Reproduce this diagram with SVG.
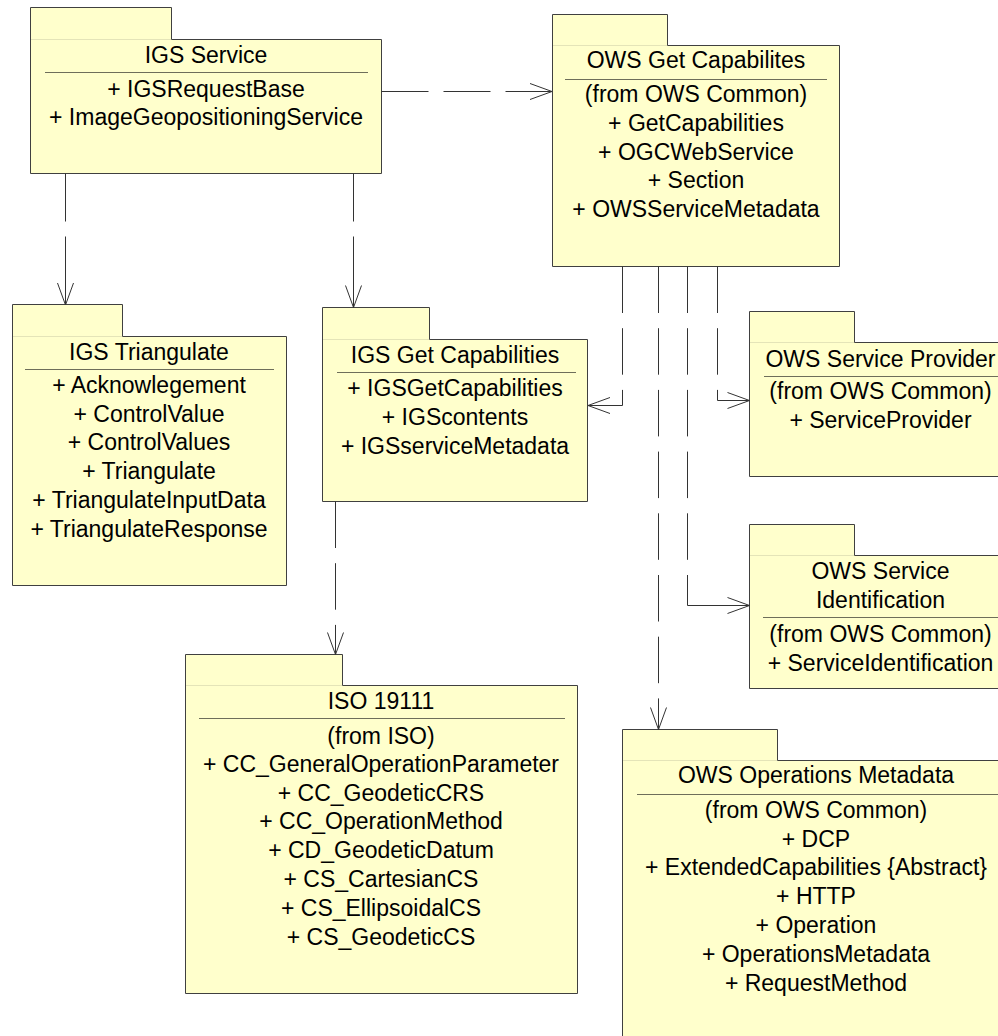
<svg xmlns="http://www.w3.org/2000/svg" width="998" height="1036" viewBox="0 0 998 1036">
  <style>
    .pkg { fill: #ffffcc; stroke: #404040; stroke-width: 1; }
    .tabline { stroke: #e4e4b8; stroke-width: 1; }
    .sep { stroke: #6e6e5a; stroke-width: 1; }
    text { font-family: "Liberation Sans", Arial, sans-serif; font-size: 23px; fill: #000; text-anchor: middle; }
    .dep { fill: none; stroke: #333; stroke-width: 1; stroke-dasharray: 46.5 15.2; }
    .solid { fill: none; stroke: #333; stroke-width: 1; }
  </style>
  <defs>
    <marker id="open-arrow" viewBox="-24 -10 26 20" refX="0" refY="0" markerWidth="26" markerHeight="20" markerUnits="userSpaceOnUse" orient="auto">
      <path d="M -22 -8 L 0 0 L -22 8" fill="none" stroke="#333" stroke-width="1"/>
    </marker>
  </defs>

  <rect width="998" height="1036" fill="#ffffff"/>

  <!-- packages -->
  <g id="igs-service">
    <path class="pkg" d="M30.5 7.5 H171.5 V39.5 H381.5 V173.5 H30.5 Z"/>
    <line class="tabline" x1="31" y1="39.5" x2="171" y2="39.5"/>
    <text x="206" y="63">IGS Service</text>
    <line class="sep" x1="45" y1="72.5" x2="368" y2="72.5"/>
    <text x="206" y="97">+ IGSRequestBase</text>
    <text x="206" y="125">+ ImageGeopositioningService</text>
  </g>

  <g id="ows-get-capabilities">
    <path class="pkg" d="M552.5 14.5 H667.5 V45.5 H839.5 V266.5 H552.5 Z"/>
    <line class="tabline" x1="553" y1="45.5" x2="667" y2="45.5"/>
    <text x="696" y="68">OWS Get Capabilites</text>
    <line class="sep" x1="565" y1="79.5" x2="827" y2="79.5"/>
    <text x="696" y="102">(from OWS Common)</text>
    <text x="696" y="131">+ GetCapabilities</text>
    <text x="696" y="160">+ OGCWebService</text>
    <text x="696" y="188">+ Section</text>
    <text x="696" y="217">+ OWSServiceMetadata</text>
  </g>

  <g id="igs-triangulate">
    <path class="pkg" d="M12.5 304.5 H122.5 V336.5 H286.5 V585.5 H12.5 Z"/>
    <line class="tabline" x1="13" y1="336.5" x2="122" y2="336.5"/>
    <text x="149" y="360">IGS Triangulate</text>
    <line class="sep" x1="25" y1="369.5" x2="274" y2="369.5"/>
    <text x="149" y="393">+ Acknowlegement</text>
    <text x="149" y="422">+ ControlValue</text>
    <text x="149" y="450">+ ControlValues</text>
    <text x="149" y="479">+ Triangulate</text>
    <text x="149" y="508">+ TriangulateInputData</text>
    <text x="149" y="537">+ TriangulateResponse</text>
  </g>

  <g id="igs-get-capabilities">
    <path class="pkg" d="M322.5 307.5 H429.5 V339.5 H587.5 V501.5 H322.5 Z"/>
    <line class="tabline" x1="323" y1="339.5" x2="429" y2="339.5"/>
    <text x="455" y="363">IGS Get Capabilities</text>
    <line class="sep" x1="337" y1="372.5" x2="576" y2="372.5"/>
    <text x="455" y="396">+ IGSGetCapabilities</text>
    <text x="455" y="425">+ IGScontents</text>
    <text x="455" y="454">+ IGSserviceMetadata</text>
  </g>

  <g id="iso-19111">
    <path class="pkg" d="M185.5 654.5 H342.5 V685.5 H577.5 V993.5 H185.5 Z"/>
    <line class="tabline" x1="186" y1="685.5" x2="342" y2="685.5"/>
    <text x="381" y="709">ISO 19111</text>
    <line class="sep" x1="199" y1="718.5" x2="565" y2="718.5"/>
    <text x="381" y="744">(from ISO)</text>
    <text x="381" y="772">+ CC_GeneralOperationParameter</text>
    <text x="381" y="801">+ CC_GeodeticCRS</text>
    <text x="381" y="829">+ CC_OperationMethod</text>
    <text x="381" y="858">+ CD_GeodeticDatum</text>
    <text x="381" y="887">+ CS_CartesianCS</text>
    <text x="381" y="916">+ CS_EllipsoidalCS</text>
    <text x="381" y="945">+ CS_GeodeticCS</text>
  </g>

  <g id="ows-service-provider">
    <path class="pkg" d="M749.5 311.5 H854.5 V342.5 H1012 V476.5 H749.5 Z"/>
    <line class="tabline" x1="750" y1="342.5" x2="854" y2="342.5"/>
    <text x="880.5" y="367">OWS Service Provider</text>
    <line class="sep" x1="764" y1="376.5" x2="998" y2="376.5"/>
    <text x="880.5" y="399">(from OWS Common)</text>
    <text x="880.5" y="428">+ ServiceProvider</text>
  </g>

  <g id="ows-service-identification">
    <path class="pkg" d="M749.5 524.5 H854.5 V555.5 H1012 V688.5 H749.5 Z"/>
    <line class="tabline" x1="750" y1="555.5" x2="854" y2="555.5"/>
    <text x="880.5" y="579">OWS Service</text>
    <text x="880.5" y="608">Identification</text>
    <line class="sep" x1="763" y1="617.5" x2="998" y2="617.5"/>
    <text x="880.5" y="642">(from OWS Common)</text>
    <text x="880.5" y="671">+ ServiceIdentification</text>
  </g>

  <g id="ows-operations-metadata">
    <path class="pkg" d="M622.5 729.5 H777.5 V760.5 H1012 V1050 H622.5 Z"/>
    <line class="tabline" x1="623" y1="760.5" x2="777" y2="760.5"/>
    <text x="816" y="783">OWS Operations Metadata</text>
    <line class="sep" x1="637" y1="794.5" x2="998" y2="794.5"/>
    <text x="816" y="818">(from OWS Common)</text>
    <text x="816" y="847">+ DCP</text>
    <text x="816" y="875">+ ExtendedCapabilities {Abstract}</text>
    <text x="816" y="904">+ HTTP</text>
    <text x="816" y="933">+ Operation</text>
    <text x="816" y="962">+ OperationsMetadata</text>
    <text x="816" y="991">+ RequestMethod</text>
  </g>

  <!-- dependency connectors -->
  <g id="connectors">
    <!-- IGS Service -> OWS Get Capabilites -->
    <path class="dep" style="stroke-dasharray: 47 15" d="M381.5 91.5 H552" marker-end="url(#open-arrow)"/>
    <!-- IGS Service -> IGS Triangulate -->
    <path class="dep" style="stroke-dasharray: 48 15 90" d="M65.5 173.5 V305" marker-end="url(#open-arrow)"/>
    <!-- IGS Service -> IGS Get Capabilities -->
    <path class="dep" style="stroke-dasharray: 48 15 90" d="M353.5 173.5 V307.5" marker-end="url(#open-arrow)"/>
    <!-- IGS Get Capabilities -> ISO 19111 -->
    <path class="dep" d="M335.5 501.5 V654.5" marker-end="url(#open-arrow)"/>
    <!-- OWS Get Capabilites -> IGS Get Capabilities -->
    <path class="dep" d="M622.5 266.5 V405.5"/>
    <path class="solid" d="M622.5 405.5 H588" marker-end="url(#open-arrow)"/>
    <!-- OWS Get Capabilites -> OWS Operations Metadata -->
    <path class="dep" d="M658.5 266.5 V729.5" marker-end="url(#open-arrow)"/>
    <!-- OWS Get Capabilites -> OWS Service Identification -->
    <path class="dep" d="M687.5 266.5 V605.5"/>
    <path class="solid" d="M687.5 605.5 H749.5" marker-end="url(#open-arrow)"/>
    <!-- OWS Get Capabilites -> OWS Service Provider -->
    <path class="dep" d="M717.5 266.5 V400.5"/>
    <path class="solid" d="M717.5 400.5 H749.5" marker-end="url(#open-arrow)"/>
  </g>
</svg>
